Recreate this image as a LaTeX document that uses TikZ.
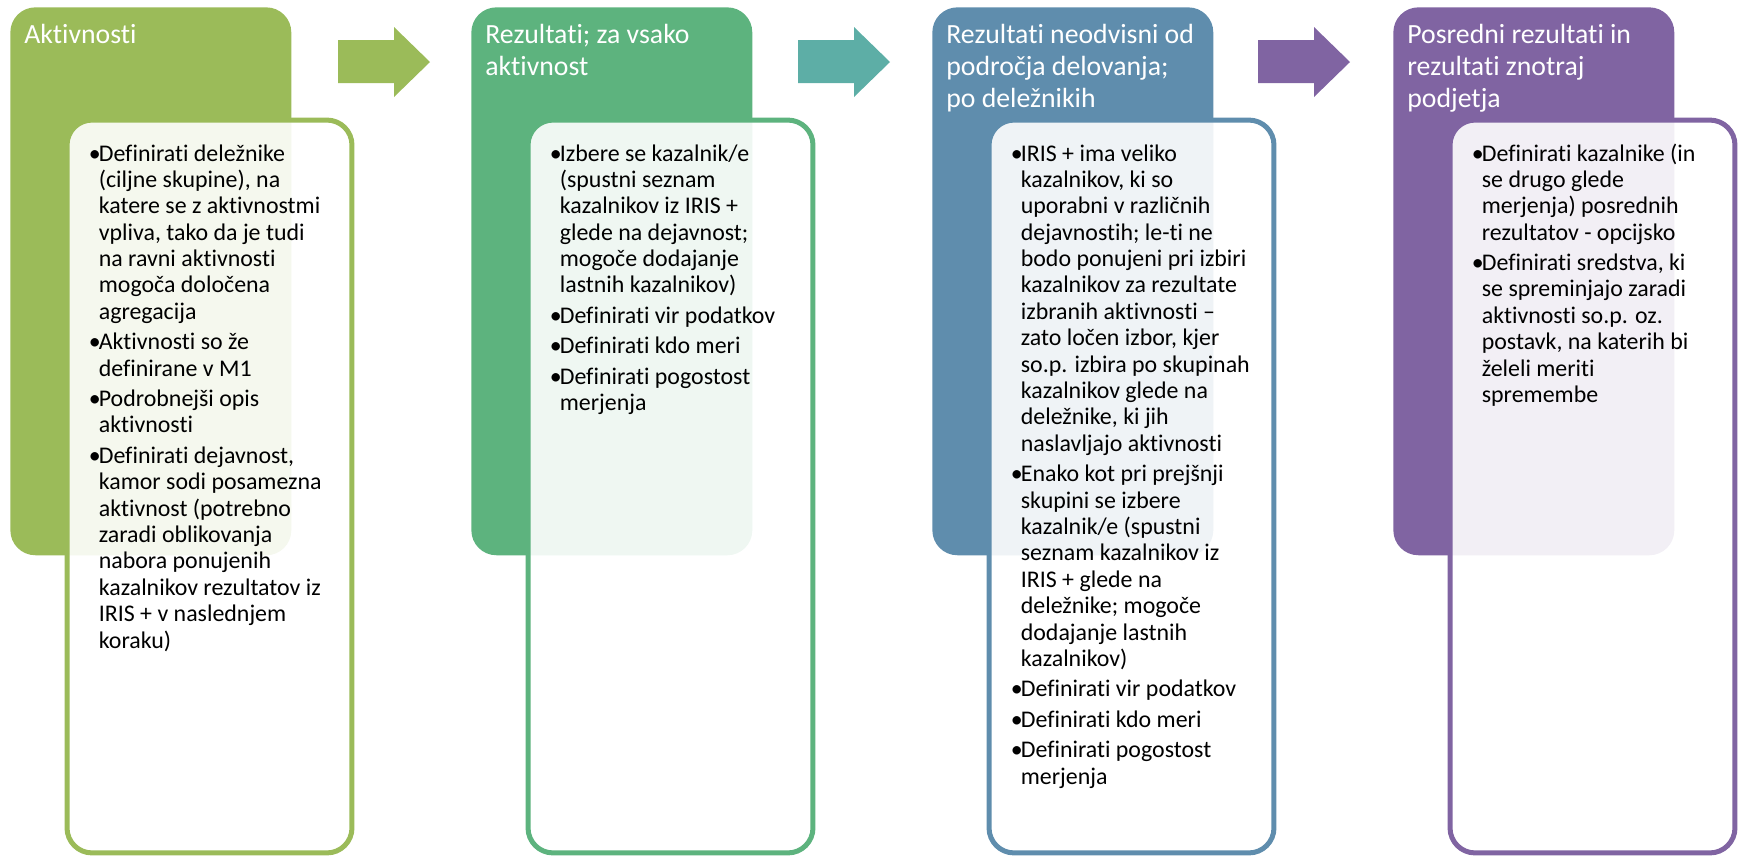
\documentclass[tikz,border=0pt]{standalone}
\usepackage{fontspec}
\setmainfont{Carlito}[Ligatures=NoCommon]
\usepackage{tikz}

\definecolor{zelena}{HTML}{9BBB59}
\definecolor{smaragd}{HTML}{5DB37E}
\definecolor{modra}{HTML}{5F8DAD}
\definecolor{vijolicna}{HTML}{8064A2}
\definecolor{turkizna}{HTML}{5DAEA6}

\newcommand{\bul}{\strut\makebox[5.69pt][l]{•}}
\newcommand{\ind}{\hspace*{5.69pt}}

\begin{document}
\begin{tikzpicture}[x=0.02cm, y=-0.02cm,
    naslov/.style={rectangle, rounded corners=0.5cm, anchor=north west, minimum width=5.62cm, minimum height=10.96cm, inner sep=0},
    okvir/.style={rectangle, rounded corners=0.5cm, line width=0.1cm, fill=white, fill opacity=0.9, draw opacity=1, minimum width=5.7cm, minimum height=14.66cm, inner sep=0},
    glava/.style={anchor=north west, inner sep=0, align=left, text=white, font=\fontsize{15.8}{18.04}\selectfont},
    besedilo/.style={anchor=north west, inner sep=0, align=left, font=\fontsize{13.6}{15.02}\selectfont}]
    \useasboundingbox (0,0) rectangle (1739,856);

    % coloured heads and white frames
    \foreach \i/\x/\c in {1/10/zelena, 2/471/smaragd, 3/932/modra, 4/1393/vijolicna} {
        \node[naslov, fill=\c] (naslov\i) at (\x,7) {};
        \node[okvir, draw=\c] (okvir\i) at (\x+199.5,486.5) {};
    }

    % block arrows
    \foreach \x/\c in {338/zelena, 798/turkizna, 1258/vijolicna}
        \fill[fill=\c] (\x,40) -- (\x+56,40) -- (\x+56,27) -- (\x+92,62) -- (\x+56,97) -- (\x+56,83) -- (\x,83) -- cycle;

    % titles
    \node[glava] (glava1) at (24,21.1) {\strut Aktivnosti};
    \node[glava] (glava2) at (485,21.1) {\strut Rezultati; za vsako\\aktivnost};
    \node[glava] (glava3) at (946,21.1) {\strut Rezultati neodvisni od\\področja delovanja;\\po deležnikih};
    \node[glava] (glava4) at (1407,21.1) {\strut Posredni rezultati in\\rezultati znotraj\\podjetja};

    % bullet texts
    \node[besedilo] (tekst1) at (88.5,142.2) {\bul Definirati deležnike\\
        \ind(ciljne skupine), na\\
        \ind katere se z aktivnostmi\\
        \ind vpliva, tako da je tudi\\
        \ind na ravni aktivnosti\\
        \ind mogoča določena\\
        \ind agregacija\\[2.28pt]
        \bul Aktivnosti so že\\
        \ind definirane v M1\\[2.28pt]
        \bul Podrobnejši opis\\
        \ind aktivnosti\\[2.28pt]
        \bul Definirati dejavnost,\\
        \ind kamor sodi posamezna\\
        \ind aktivnost (potrebno\\
        \ind zaradi oblikovanja\\
        \ind nabora ponujenih\\
        \ind kazalnikov rezultatov iz\\
        \ind IRIS + v naslednjem\\
        \ind koraku)};
    \node[besedilo] (tekst2) at (549.5,142.2) {\bul Izbere se kazalnik/e\\
        \ind(spustni seznam\\
        \ind kazalnikov iz IRIS +\\
        \ind glede na dejavnost;\\
        \ind mogoče dodajanje\\
        \ind lastnih kazalnikov)\\[2.28pt]
        \bul Definirati vir podatkov\\[2.28pt]
        \bul Definirati kdo meri\\[2.28pt]
        \bul Definirati pogostost\\
        \ind merjenja};
    \node[besedilo] (tekst3) at (1010.5,142.2) {\bul IRIS + ima veliko\\
        \ind kazalnikov, ki so\\
        \ind uporabni v različnih\\
        \ind dejavnostih; le-ti ne\\
        \ind bodo ponujeni pri izbiri\\
        \ind kazalnikov za rezultate\\
        \ind izbranih aktivnosti –\\
        \ind zato ločen izbor, kjer\\
        \ind so.p. izbira po skupinah\\
        \ind kazalnikov glede na\\
        \ind deležnike, ki jih\\
        \ind naslavljajo aktivnosti\\[2.28pt]
        \bul Enako kot pri prejšnji\\
        \ind skupini se izbere\\
        \ind kazalnik/e (spustni\\
        \ind seznam kazalnikov iz\\
        \ind IRIS + glede na\\
        \ind deležnike; mogoče\\
        \ind dodajanje lastnih\\
        \ind kazalnikov)\\[2.28pt]
        \bul Definirati vir podatkov\\[2.28pt]
        \bul Definirati kdo meri\\[2.28pt]
        \bul Definirati pogostost\\
        \ind merjenja};
    \node[besedilo] (tekst4) at (1471.5,142.2) {\bul Definirati kazalnike (in\\
        \ind se drugo glede\\
        \ind merjenja) posrednih\\
        \ind rezultatov - opcijsko\\[2.28pt]
        \bul Definirati sredstva, ki\\
        \ind se spreminjajo zaradi\\
        \ind aktivnosti so.p. oz.\\
        \ind postavk, na katerih bi\\
        \ind želeli meriti\\
        \ind spremembe};
\end{tikzpicture}
\end{document}
